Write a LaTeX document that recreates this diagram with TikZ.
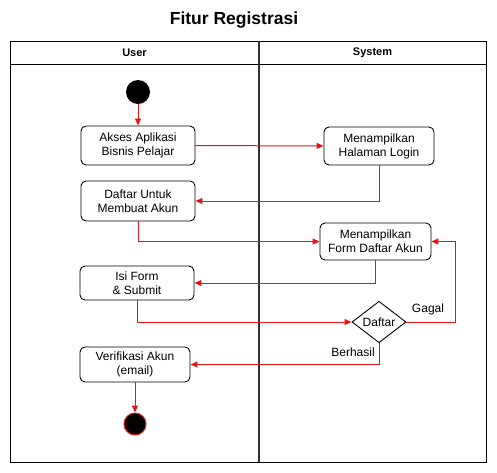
\documentclass[tikz,border=0pt]{standalone}
\usepackage{fontspec}
\setmainfont{Liberation Sans}
\usetikzlibrary{arrows.meta,positioning,shapes.geometric}
\definecolor{flowred}{RGB}{230,20,20}
\definecolor{lanegrey}{RGB}{50,50,50}
\tikzset{
  >={Triangle[length=7pt,width=6pt]},
  act/.style={draw=black,fill=white,rounded corners=5pt,line width=0.9pt,
    minimum width=#1,inner sep=0pt,align=center,font=\fontsize{12}{14}\selectfont},
  act/.default=114pt,
  flow/.style={->,line width=1pt,draw=flowred},
  guard/.style={font=\fontsize{12}{14}\selectfont},
  lanehead/.style={font=\fontsize{11}{13}\selectfont\bfseries},
  dot/.style={circle,fill=black,inner sep=0pt,minimum size=#1},
}
\begin{document}
\begin{tikzpicture}[x=1pt,y=-1pt]
  \useasboundingbox (0,0) rectangle (497,472);
  \node[font=\fontsize{17.5}{20}\selectfont\bfseries] (title) at (234,20) {Fitur Registrasi};
  % swimlanes
  \draw[line width=1pt] (10,41) rectangle (486,462);
  \draw[line width=1pt] (10,64) -- (486,64);
  \draw[line width=2pt,lanegrey] (259,41) -- (259,462);
  \node[lanehead] (user) at (134.5,53) {User};
  \node[lanehead] (system) at (372.5,53) {System};
  % activities
  \node[dot=24pt] (start) at (138,92) {};
  \node[act,minimum height=39pt] (akses) at (138,145.5) {Akses Aplikasi\\Bisnis Pelajar};
  \node[act=110pt,minimum height=38pt] (login) at (379,146) {Menampilkan\\Halaman Login};
  \node[act,minimum height=40pt] (daftar) at (138,201) {Daftar Untuk\\Membuat Akun};
  \node[act=111pt,minimum height=37pt] (form) at (375.5,241.5) {Menampilkan\\Form Daftar Akun};
  \node[act,minimum height=34pt] (isi) at (137,283) {Isi Form\\\& Submit};
  \node[diamond,draw=black,fill=white,line width=0.9pt,inner sep=0pt,minimum width=54pt,
    minimum height=36pt,font=\fontsize{12}{14}\selectfont] (cek) at (379,322) {Daftar};
  \node[act=110pt,minimum height=35pt] (verif) at (135,364.5) {Verifikasi Akun\\(email)};
  \node[dot=22pt,draw=flowred,line width=1pt] (end) at (135,424) {};
  % flows
  \draw[flow] (start) -- (akses);
  \draw[flow] (akses) -- (login);
  \draw[flow] (login.south) |- (daftar.east);
  \draw[flow] (daftar.south) |- (form.west);
  \draw[flow] (form.south) |- (isi.east);
  \draw[flow] (isi.south) |- (cek.west);
  \draw[flow] (cek.east) -- ++(49,0) |- (form.east);
  \draw[flow] (cek.south) |- (verif.east);
  \draw[flow] (verif) -- (end);
  \node[guard] (gagal) at (428,309) {Gagal};
  \node[guard] (berhasil) at (353,352) {Berhasil};
\end{tikzpicture}
\end{document}
